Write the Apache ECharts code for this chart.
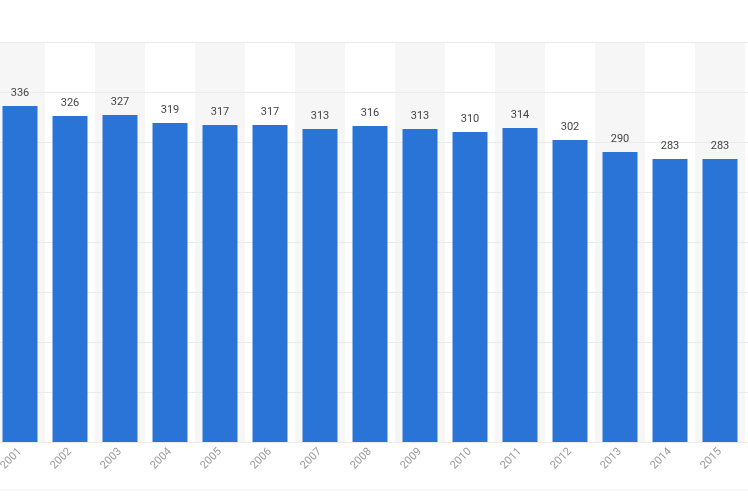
<!DOCTYPE html>
<html>
<head>
<meta charset="utf-8">
<script src="https://cdn.jsdelivr.net/npm/echarts@6/dist/echarts.min.js"></script>
<style>html,body{margin:0;padding:0;background:#fff}#c{width:748px;height:498px}</style>
</head>
<body>
<div id="c"></div>
<script>
const categories = ['2001','2002','2003','2004','2005','2006','2007','2008','2009','2010','2011','2012','2013','2014','2015','2016'];
const values = [336, 326, 327, 319, 317, 317, 313, 316, 313, 310, 314, 302, 290, 283, 283, null];
const yTicks = [0, 50, 100, 150, 200, 250, 300, 350, 400];

const chart = echarts.init(document.getElementById('c'), null, {renderer: 'canvas'});
chart.setOption({
  animation: false,
  backgroundColor: '#fff',
  grid: {left: -5, width: 800, top: 42, height: 400, containLabel: false, outerBoundsMode: 'none'},
  xAxis: {
    type: 'category',
    data: categories,
    z: 0,
    axisLine: {show: true, lineStyle: {color: '#cfcfcf', width: 1}},
    axisTick: {show: false},
    axisLabel: {rotate: 45, color: '#9a9a9a', fontSize: 11, fontFamily: 'Roboto', margin: 8, interval: 0, hideOverlap: false},
    splitArea: {show: true, areaStyle: {color: ['#f6f6f6', '#ffffff']}},
    splitLine: {show: false}
  },
  yAxis: {
    type: 'value',
    z: 1,
    min: yTicks[0],
    max: yTicks[yTicks.length - 1],
    interval: 50,
    axisLabel: {show: false},
    axisLine: {show: false},
    axisTick: {show: false},
    splitLine: {show: true, lineStyle: {color: '#ebebeb', width: 1}}
  },
  series: [{
    type: 'bar',
    data: values,
    z: 2,
    barWidth: 35,
    itemStyle: {color: '#2a74d8'},
    label: {show: true, position: 'top', distance: 7, color: '#444', fontSize: 11, fontFamily: 'Roboto'}
  }],
  graphic: [{
    type: 'line',
    shape: {x1: 0, y1: 490, x2: 748, y2: 490},
    style: {stroke: '#eeeeee', lineWidth: 1}
  }]
});
</script>
</body>
</html>
